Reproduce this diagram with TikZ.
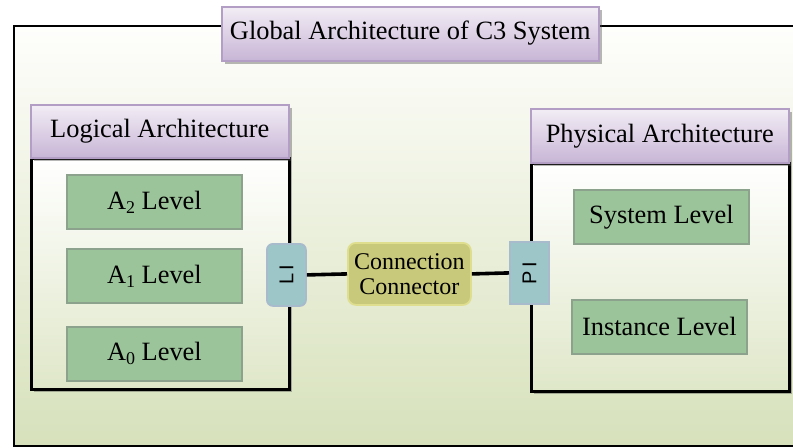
\documentclass[tikz,border=0pt]{standalone}
\usepackage{fontspec}
\setmainfont{Liberation Serif}
\setsansfont{Liberation Sans}
\usetikzlibrary{shadows}
\pgfdeclarelayer{background}
\pgfsetlayers{background,main}
\definecolor{bgtop}{HTML}{FEFEFC}
\definecolor{bgbot}{HTML}{D7E1BB}
\definecolor{headtop}{HTML}{F2EDF5}
\definecolor{headbot}{HTML}{C8B5D6}
\definecolor{headline}{HTML}{B39FC5}
\definecolor{levelfill}{HTML}{9CC49A}
\definecolor{levelline}{HTML}{8DA28D}
\definecolor{portfill}{HTML}{9DC6C9}
\definecolor{portline}{HTML}{A7BBCD}
\definecolor{connfill}{HTML}{C9C97B}
\definecolor{connline}{HTML}{DEDE8E}
\begin{document}
\begin{tikzpicture}[x=0.5pt,y=-0.5pt,
    every node/.style={inner sep=0pt,anchor=north west,font=\rmfamily\fontsize{13.2}{14}\selectfont},
    shadowed/.style={drop shadow={shadow xshift=1.5pt,shadow yshift=-1.5pt,opacity=0.4,fill=black!70}},
    headbox/.style={shadowed,draw=headline,line width=0.8pt,top color=headtop,bottom color=headbot,
      minimum width=129pt,minimum height=27pt},
    archbox/.style={shadowed,draw=black,line width=1.3pt,top color=white,bottom color=bgbot!80!white,
      minimum width=129pt},
    levelbox/.style={draw=levelline,line width=0.9pt,fill=levelfill,minimum width=87.5pt,minimum height=27pt},
    portbox/.style={draw=portline,line width=0.9pt,fill=portfill,minimum width=19.5pt,minimum height=31pt,
      font=\sffamily\fontsize{10}{11}\selectfont},
    link/.style={line width=1.8pt}
  ]
  \useasboundingbox (0,0) rectangle (793,447);

  %Rahmen und Architekturkaesten
  \begin{pgfonlayer}{background}
    \node[draw=black,line width=1.2pt,top color=bgtop,bottom color=bgbot,
      minimum width=393.5pt,minimum height=210pt] (global) at (13,25) {};
    \node[archbox,minimum height=115.5pt] (logbox) at (30,157) {};
    \node[archbox,minimum height=114pt] (phybox) at (530,162) {};
  \end{pgfonlayer}

  %Schnittstellen
  \node[portbox,rounded corners=3pt] (LI) at (266,243) {\rotatebox{90}{L\,I}};
  \node[portbox] (PI) at (509,241) {\rotatebox{90}{P\,I}};
  \node[draw=connline,line width=0.9pt,fill=connfill,rounded corners=4pt,
    minimum width=61.5pt,minimum height=31pt,align=center,
    font=\rmfamily\fontsize{12}{12.5}\selectfont] (conn) at (347,242) {Connection\\Connector};

  %Titel
  \node[headbox,minimum width=188.5pt] (globalhead) at (221,6)
    {\raisebox{4pt}{Global Architecture of C3 System}};

  %Logische Architektur
  \node[headbox,minimum height=26.5pt] (loghead) at (30,104) {Logical Architecture};
  \foreach \i/\y in {2/174,1/248,0/326}
    \node[levelbox] (levelA\i) at (66,\y) {A\raisebox{-2pt}{\fontsize{9}{9}\selectfont\i} Level};

  %Physikalische Architektur
  \node[headbox] (phyhead) at (530,108) {Physical Architecture};
  \node[levelbox] (syslevel) at (573,189) {System Level};
  \node[levelbox] (instlevel) at (571,299) {Instance Level};

  \draw[link] (LI.east) -- (conn.west);
  \draw[link] (conn.east) -- (PI.west);
\end{tikzpicture}
\end{document}
